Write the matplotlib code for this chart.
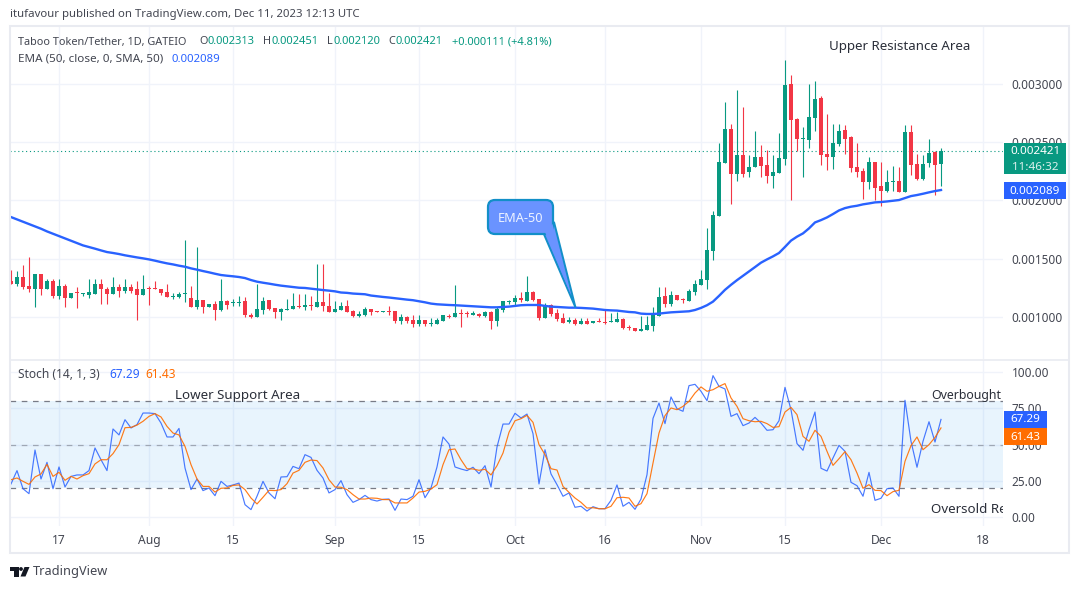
import numpy as np
import matplotlib
matplotlib.use('Agg')
import matplotlib.pyplot as plt
from matplotlib.patches import FancyBboxPatch, Polygon, Rectangle, Circle

plt.rcParams['font.family'] = ['Noto Sans', 'DejaVu Sans']

# prices below are in millionths of USDT, one value per daily candle (9 Jul - 11 Dec)
opens = [1305,1279,1339,1270,1244,1365,1236,1305,1184,1270,1167,1210,1195,1192,1201,1279,1244,1201,1253,1227,
         1253,1236,1192,1244,1244,1244,1218,1175,1175,1195,1167,1089,1149,1089,1115,1063,1141,1118,1118,1141,
         1020,1003,1063,1149,1080,1046,1063,1072,1098,1089,1106,1089,1132,1098,1046,1060,1095,1052,1009,1017,
         1069,1052,1046,1052,1052,965,1000,974,940,974,940,940,965,1009,1000,1034,1034,1017,1026,1009,
         1043,965,1060,1129,1129,1164,1138,1215,1155,991,1103,1034,991,957,974,940,965,948,965,957,
         957,957,983,914,905,879,888,922,1009,1181,1112,1190,1155,1138,1215,1276,1319,1569,1863,2323,
         2614,2229,2391,2246,2289,2374,2306,2211,2237,2357,3000,2700,2529,2520,2709,2880,2400,2374,2486,2606,
         2546,2289,2254,2160,2331,2126,2083,2160,2169,2074,2589,2314,2186,2323,2417,2313]
highs = [1399,1391,1443,1511,1365,1365,1330,1330,1330,1279,1207,1253,1210,1330,1330,1330,1253,1339,1279,1322,
         1287,1305,1356,1270,1305,1244,1279,1210,1218,1658,1270,1598,1149,1115,1141,1330,1149,1158,1184,1175,
         1037,1279,1175,1149,1080,1080,1158,1210,1201,1201,1184,1451,1451,1210,1141,1129,1147,1060,1052,1086,
         1069,1052,1052,1095,1052,1026,1009,1017,1017,974,991,991,1017,1026,1276,1069,1052,1052,1034,1052,
         1052,1086,1138,1147,1190,1215,1353,1224,1155,1121,1112,1069,1034,1000,991,991,991,965,991,1069,
         1034,1043,991,931,905,1009,1009,1086,1259,1259,1224,1190,1167,1241,1319,1405,1759,1905,2494,2846,
         2657,2949,2803,2391,2597,2477,2434,2391,2580,3206,3077,2709,2631,3000,3026,2897,2743,2657,2657,2649,
         2554,2494,2280,2374,2331,2331,2263,2297,2289,2649,2649,2400,2391,2529,2426,2451]
lows = [1279,1264,1236,1218,1089,1192,1236,1167,1158,1089,1167,1080,1184,1167,1201,1115,1115,1201,1175,1210,
        1210,977,1192,1106,1236,1192,1175,1158,1167,1132,1089,1072,1037,1089,977,1055,1072,1098,1098,1003,
        994,1003,1029,1063,994,977,1063,1072,1080,1063,1063,1089,1055,1046,1046,1060,1043,1000,1000,1009,
        1017,1046,1046,1017,948,940,948,914,922,922,922,940,965,991,1000,914,1000,1017,1000,1000,
        896,922,1043,1112,1103,1129,1138,1138,974,991,1009,965,948,948,931,940,940,948,957,940,
        957,957,896,888,879,879,888,879,1009,1086,1095,1147,1121,1138,1190,1276,1241,1491,1863,2323,
        1971,2169,2203,2203,2289,2203,2151,2109,2237,2306,2006,2426,2203,2451,2597,2306,2263,2271,2469,2400,
        2246,2203,2014,2100,2006,1954,2074,2083,2074,2074,2220,2177,2177,2289,2049,2120]
closes = [1279,1339,1261,1244,1365,1236,1305,1184,1270,1167,1207,1204,1201,1218,1279,1236,1201,1253,1227,1253,
          1227,1192,1244,1238,1238,1210,1175,1184,1201,1201,1089,1149,1089,1115,1063,1141,1106,1126,1132,1020,
          1003,1072,1141,1072,1046,1072,1072,1098,1089,1106,1098,1132,1098,1046,1072,1095,1043,1009,1026,1069,
          1043,1046,1052,1046,965,1000,965,940,974,940,948,974,1017,1000,1034,1029,1029,1034,1009,1043,
          965,1069,1138,1138,1164,1147,1215,1147,991,1103,1026,983,948,974,940,965,940,965,957,948,
          965,983,905,905,879,896,931,1017,1172,1112,1190,1147,1144,1224,1284,1328,1578,1871,2331,2614,
          2229,2391,2229,2289,2374,2297,2211,2246,2366,2991,2691,2529,2537,2717,2871,2391,2374,2494,2597,2529,
          2280,2246,2160,2331,2109,2083,2160,2169,2074,2589,2306,2186,2314,2409,2306,2421]
ema50 = [1857,1837,1817,1797,1777,1757,1734,1714,1694,1674,1654,1634,1614,1600,1586,1571,1557,1549,1540,1529,
         1520,1511,1503,1494,1483,1471,1460,1451,1440,1431,1417,1406,1394,1383,1371,1360,1354,1349,1343,1334,
         1317,1303,1294,1286,1277,1269,1263,1257,1251,1249,1243,1237,1231,1226,1220,1210,1207,1201,1198,1195,
         1184,1178,1172,1167,1161,1155,1149,1144,1135,1126,1115,1109,1106,1103,1101,1098,1095,1092,1089,1086,
         1083,1083,1086,1089,1095,1101,1103,1103,1103,1095,1089,1086,1083,1080,1080,1078,1075,1072,1066,1060,
         1057,1055,1049,1043,1040,1029,1026,1026,1029,1035,1040,1043,1046,1049,1060,1078,1101,1132,1181,1233,
         1276,1316,1353,1391,1428,1466,1494,1520,1549,1601,1655,1689,1717,1760,1811,1831,1854,1883,1914,1934,
         1946,1954,1966,1974,1983,1986,1991,1997,2003,2020,2037,2046,2057,2069,2080,2089]

stoch_k = [22.8,32.0,19.5,16.1,46.2,26.2,37.7,19.5,34.5,20.7,28.0,29.0,29.0,32.0,47.6,39.5,32.0,60.7,56.6,67.1,
           61.4,63.7,71.7,71.7,71.3,64.8,55.2,55.2,61.1,33.8,18.9,26.2,18.2,20.0,14.7,24.6,21.1,22.1,23.4,8.5,
           5.1,14.3,24.6,16.6,12.6,27.6,27.8,34.9,33.3,43.0,41.1,32.2,26.9,16.6,18.9,25.1,15.4,10.1,12.0,14.9,
           12.0,11.0,12.2,12.4,4.6,12.4,12.0,14.3,25.7,13.3,20.0,34.5,55.2,50.3,34.5,33.1,32.0,34.3,29.9,35.4,
           20.7,48.3,64.1,64.1,71.5,68.3,71.0,57.5,22.8,46.4,29.7,22.3,14.3,16.6,6.7,7.4,4.1,7.1,5.7,5.7,
           11.5,22.1,7.4,10.1,5.3,12.4,29.2,68.0,78.6,64.4,82.8,74.7,72.9,90.6,91.5,86.7,80.2,97.5,90.1,88.3,
           69.4,71.3,63.0,64.8,68.7,64.8,59.8,60.2,66.4,89.4,74.0,50.6,46.0,60.2,72.4,33.6,31.7,40.7,49.4,45.3,
           23.9,21.6,14.3,30.8,11.5,12.9,19.5,20.0,14.3,80.5,52.2,34.3,52.2,65.7,51.7,67.29]
stoch_d = [25.7,26.9,24.6,22.5,27.6,29.7,36.3,28.0,30.8,25.3,28.0,26.2,28.5,29.9,36.6,39.5,39.5,43.7,49.9,61.6,
           61.8,63.4,66.0,69.4,71.3,69.0,62.5,57.9,56.6,48.7,36.1,26.2,21.1,21.1,17.2,19.8,20.0,21.8,22.1,18.9,
           13.1,9.0,13.6,18.4,18.2,18.9,23.0,30.3,32.2,37.7,39.3,38.9,33.8,25.7,20.7,20.5,18.9,15.4,12.4,12.4,
           13.1,12.9,12.0,12.0,9.7,9.7,9.7,13.1,17.2,17.7,19.3,22.3,36.1,46.4,46.9,39.5,33.3,33.1,32.2,32.9,
           29.0,35.4,44.1,58.4,66.4,67.8,70.1,65.3,49.9,43.0,33.3,32.4,21.1,17.0,13.1,10.1,6.2,6.4,5.7,5.7,
           7.4,13.3,13.6,13.1,7.4,9.2,16.1,37.2,57.9,69.9,75.2,74.0,76.3,79.8,85.5,89.7,86.7,87.8,90.1,92.0,
           82.1,76.3,67.8,66.4,65.7,66.0,64.4,61.8,62.3,72.4,75.6,70.6,55.6,52.2,59.8,55.6,45.3,35.6,40.2,45.1,
           39.5,30.3,19.8,22.3,18.4,18.2,14.7,17.5,18.4,38.4,49.2,55.2,46.4,49.9,54.9,61.43]

date_ticks = [8, 23, 37, 54, 68, 84, 99, 115, 129, 145, 162]
date_labels = ['17', 'Aug', '15', 'Sep', '15', 'Oct', '16', 'Nov', '15', 'Dec', '18']
month_labels = ['Aug', 'Sep', 'Oct', 'Nov', 'Dec']
price_ticks = [0.0010, 0.0015, 0.0020, 0.0025, 0.0030]
stoch_ticks = [0, 25, 50, 75, 100]

GREEN = '#089981'
RED = '#f23645'
BLUE = '#2962ff'
ORANGE = '#ff6d00'
GRID = '#f0f3fa'
FRAME = '#e9ebf1'
TEXT = '#434651'

W, H = 1080, 589
fig = plt.figure(figsize=(W / 100, H / 100), dpi=100, facecolor='white')


def pane(left, top, right, bottom):
    return fig.add_axes([left / W, 1 - bottom / H, (right - left) / W, (bottom - top) / H])


def style_pane(ax):
    for s in ax.spines.values():
        s.set_visible(False)
    ax.yaxis.tick_right()
    ax.set_xlim(-1 / 6, 992 / 6)
    ax.set_axisbelow(True)
    ax.grid(True, color=GRID, linewidth=1.0)
    ax.tick_params(axis='y', length=0, pad=6.3, labelsize=8.5, labelcolor=TEXT)


# price pane
ax = pane(10, 27, 1003, 359)
style_pane(ax)
o = np.array(opens) * 1e-6
h = np.array(highs) * 1e-6
l = np.array(lows) * 1e-6
c = np.array(closes) * 1e-6
days = np.arange(len(o))
colors = [GREEN if c[i] >= o[i] else RED for i in days]
ax.vlines(days, l, h, colors=colors, linewidth=0.8, zorder=2)
ax.bar(days, np.maximum(np.abs(c - o), 7e-6), bottom=np.minimum(o, c), width=0.78,
       color=colors, linewidth=0, zorder=3)
ax.plot(days, np.array(ema50) * 1e-6, color=BLUE, linewidth=1.7, zorder=4)
ax.axhline(c[-1], color=GREEN, linestyle=(0, (1, 2.5)), linewidth=0.8, zorder=1)
ax.set_ylim(0.001 - 42 * 8.576e-6, 0.001 + 290 * 8.576e-6)
ax.set_yticks(price_ticks)
ax.set_yticklabels(['%.6f' % p for p in price_ticks])
ax.set_xticks(date_ticks)
ax.tick_params(axis='x', length=0, labelbottom=False)

# stochastic pane
ax2 = pane(10, 360, 1003, 526)
style_pane(ax2)
ax2.axhspan(20, 80, color='#2196f3', alpha=0.1, linewidth=0, zorder=1)
ax2.axhline(80, color='#787b86', linestyle=(0, (4.5, 4.5)), linewidth=0.9, zorder=2)
ax2.axhline(50, color='#787b86', linestyle=(0, (4.5, 4.5)), linewidth=0.9, alpha=0.6, zorder=2)
ax2.axhline(20, color='#787b86', linestyle=(0, (4.5, 4.5)), linewidth=0.9, zorder=2)
ax2.plot(days, stoch_k, color=BLUE, linewidth=0.85, alpha=0.85, zorder=3)
ax2.plot(days, stoch_d, color=ORANGE, linewidth=0.85, alpha=0.9, zorder=4)
ax2.set_ylim(-9 / 1.45, 157 / 1.45)
ax2.set_yticks(stoch_ticks)
ax2.set_yticklabels(['%.2f' % v for v in stoch_ticks])
ax2.set_xticks(date_ticks)
ax2.set_xticklabels(date_labels)
ax2.tick_params(axis='x', length=0, pad=6, labelsize=8.7, labelcolor=TEXT)
for lab in ax2.get_xticklabels():
    if lab.get_text() in month_labels:
        lab.set_fontweight('bold')

ax2.text(153.3, 83.5, 'Overbought', fontsize=8.9, color='#2a2e39', va='center', clip_on=True, zorder=6)
ax2.text(153.3, 5.5, 'Oversold Re', fontsize=9.6, color='#2a2e39', va='center', clip_on=True, zorder=6)
ax2.text(27.3, 83.5, 'Lower Support Area', fontsize=9.6, color='#2a2e39', va='center', zorder=6)
ax.text(136.4, 0.00332, 'Upper Resistance Area', fontsize=9.55, color='#2a2e39', va='center', zorder=6)

# overlay in image pixels, for the frame, legends, callout and price tags
ov = fig.add_axes([0, 0, 1, 1], zorder=10)
ov.set_xlim(0, W)
ov.set_ylim(H, 0)
ov.axis('off')
ov.patch.set_alpha(0)

ov.add_patch(Rectangle((10, 26), 1059, 527, fill=False, edgecolor=FRAME, linewidth=1.5))
ov.plot([10, 1069], [359.5, 359.5], color=FRAME, linewidth=1.2)

ov.text(10, 15, 'itufavour published on TradingView.com, Dec 11, 2023 12:13 UTC', fontsize=8.2, color=TEXT, va='center')
ov.text(18, 42, 'Taboo Token/Tether, 1D, GATEIO', fontsize=7.85, color=TEXT, va='center')
for x, s in [(199, 'O'), (263, 'H'), (327, 'L'), (388, 'C')]:
    ov.text(x, 42, s, fontsize=7.85, color=TEXT, va='center')
for x, s in [(207, '0.002313'), (271, '0.002451'), (334, '0.002120'), (396, '0.002421'),
             (452, '+0.000111 (+4.81%)')]:
    ov.text(x, 42, s, fontsize=8.0, color=GREEN, va='center')
ov.text(18, 59, 'EMA (50, close, 0, SMA, 50)', fontsize=8.4, color=TEXT, va='center')
ov.text(172, 59, '0.002089', fontsize=8.2, color=BLUE, va='center')
ov.text(18, 374, 'Stoch (14, 1, 3)', fontsize=8.6, color=TEXT, va='center')
ov.text(109, 374, '67.29', fontsize=8.6, color=BLUE, va='center')
ov.text(145, 374, '61.43', fontsize=8.6, color=ORANGE, va='center')

# EMA-50 callout
ov.add_patch(Polygon([(543, 232), (554, 222), (575.5, 307.5)], closed=True, facecolor='#6a93ff',
                     edgecolor='#128fc8', linewidth=1.4, joinstyle='miter', zorder=3))
ov.add_patch(FancyBboxPatch((494, 206), 53, 22, boxstyle='round,pad=6,rounding_size=7',
                            facecolor='#6a93ff', edgecolor='#128fc8', linewidth=1.6, zorder=4))
ov.add_patch(Polygon([(545, 232), (552.5, 224), (571, 295)], closed=True, facecolor='#6a93ff',
                     edgecolor='none', zorder=5))
ov.text(520.5, 218, 'EMA-50', fontsize=9.2, color='#eef3ff', ha='center', va='center', zorder=6)

# price and indicator tags on the right scale
ov.add_patch(Rectangle((1004, 143), 62, 31, facecolor=GREEN, edgecolor='none'))
ov.text(1035, 152, '0.002421', fontsize=8.4, fontweight='bold', color='white', ha='center', va='center')
ov.text(1035, 167, '11:46:32', fontsize=8.4, color='white', alpha=0.85, ha='center', va='center')
ov.add_patch(Rectangle((1004, 182), 62, 17, facecolor=BLUE, edgecolor='none'))
ov.text(1035, 191, '0.002089', fontsize=8.4, fontweight='bold', color='white', ha='center', va='center')
ov.add_patch(Rectangle((1004, 411), 43, 17, facecolor=BLUE, edgecolor='none'))
ov.text(1025.5, 420, '67.29', fontsize=8.4, fontweight='bold', color='white', ha='center', va='center')
ov.add_patch(Rectangle((1004, 428), 43, 17, facecolor=ORANGE, edgecolor='none'))
ov.text(1025.5, 437, '61.43', fontsize=8.4, fontweight='bold', color='white', ha='center', va='center')

# TradingView logo and name
ov.add_patch(Rectangle((10, 567), 8.5, 3.6, facecolor='#131722', edgecolor='none'))
ov.add_patch(Rectangle((14, 567), 4.5, 9.5, facecolor='#131722', edgecolor='none'))
ov.add_patch(Circle((21, 569), 1.9, facecolor='#131722', edgecolor='none'))
ov.add_patch(Polygon([(24.5, 567), (29.5, 567), (25.5, 576.5), (20.5, 576.5)], closed=True,
                     facecolor='#131722', edgecolor='none'))
ov.text(33, 572, 'TradingView', fontsize=9.2, color=TEXT, va='center')

fig.savefig('out.png', dpi=100, facecolor='white')
